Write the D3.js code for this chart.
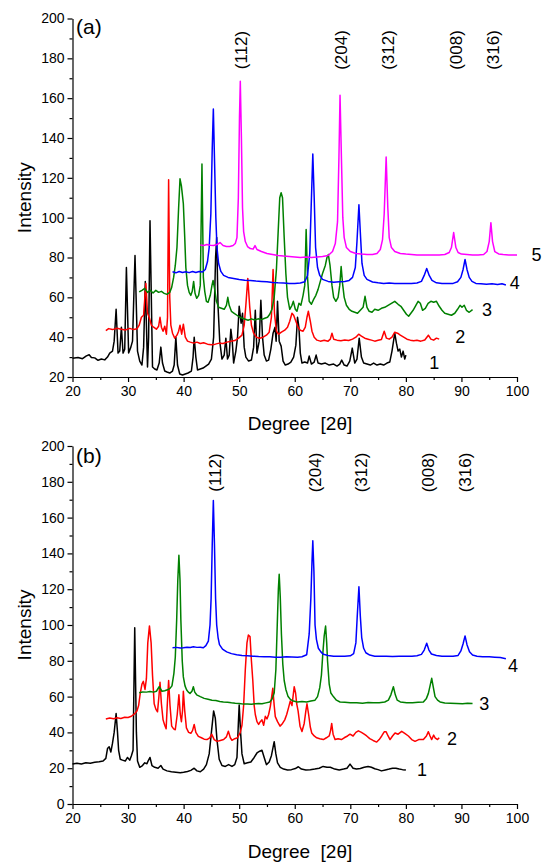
<!DOCTYPE html>
<html>
<head>
<meta charset="utf-8">
<script src="https://cdn.jsdelivr.net/npm/d3@7"></script>
<style>
  body { margin: 0; background: #fff; }
  text { font-family: Arial, "Liberation Sans", sans-serif; fill: #000; }
</style>
</head>
<body>
<div id="chart"></div>
<script>
/* DATA */
const xTicks = [20, 30, 40, 50, 60, 70, 80, 90, 100];
const xMinor = [25, 35, 45, 55, 65, 75, 85, 95];
const yTicksA = [20, 40, 60, 80, 100, 120, 140, 160, 180, 200];
const yMinorA = [30, 50, 70, 90, 110, 130, 150, 170, 190];
const yTicksB = [0, 20, 40, 60, 80, 100, 120, 140, 160, 180, 200];
const yMinorB = [10, 30, 50, 70, 90, 110, 130, 150, 170, 190];

const hklNames = ["(112)", "(204)", "(312)", "(008)", "(316)"];
const hklA = [50.45, 68.45, 76.85, 89.05, 95.75];
const hklB = [45.65, 63.65, 72.05, 84.05, 90.65];

// panel (a)
const a1 = [[20,29.4],[21,29.8],[21.8,29.2],[22.5,30.6],[23.0,31.2],[23.4,29.8],[24,29.6],[24.6,28.4],[25.2,29],[25.8,28.6],[26.3,30],[26.7,32],[27.2,33],[27.5,38],[27.85,54],[28.2,32],[28.5,33],[28.8,45],[29.1,32],[29.4,34],[29.7,75],[30.1,32],[30.5,35],[30.8,38],[31.25,81],[31.7,33],[32.1,28],[32.5,26],[32.8,35],[33.1,68],[33.5,25],[33.7,40],[33.95,98.5],[34.4,25],[34.8,24],[35.2,23.5],[35.6,27],[35.9,35],[36.2,27],[36.6,23],[37,22.5],[37.5,22],[38,23],[38.3,26],[38.6,40],[38.9,26],[39.3,21.5],[39.8,21],[40.3,21.5],[40.8,22],[41.4,23],[41.7,30],[41.9,40],[42.2,30],[42.5,23.5],[43,24],[43.5,24.5],[44,25.5],[44.5,26.5],[45.0,29],[45.4,40],[45.75,80],[45.95,90],[46.2,55],[46.5,38],[46.9,29],[47.3,31],[47.6,39.5],[47.9,29],[48.2,31],[48.5,44],[48.75,38],[49,27],[49.4,33],[49.7,40],[50.0,55.5],[50.35,47],[50.6,52],[50.9,35],[51.2,30],[51.7,28],[52.2,28.5],[52.6,35],[52.9,53.5],[53.2,32],[53.6,38],[53.9,58.5],[54.2,40],[54.5,31],[54.9,28],[55.3,28.5],[55.7,34],[56.1,42],[56.45,45],[56.65,38],[56.9,58],[57.2,38],[57.55,35.5],[57.9,28],[58.3,26],[58.8,26.5],[59.3,27.5],[59.8,30],[60.2,36],[60.5,50],[60.75,45],[61.0,32],[61.3,27],[61.8,27.5],[62.3,27],[62.6,30.5],[63.0,26.5],[63.5,27.5],[63.85,31],[64.2,27],[64.8,26.5],[65.5,27],[66.2,26],[67,26.5],[67.6,25.5],[68.1,26.5],[68.45,28.5],[68.9,26],[69.4,25.5],[69.9,28],[70.35,34.5],[70.8,27],[71.2,29],[71.6,39.5],[72.0,30],[72.4,27],[73,26.5],[73.6,26],[74.2,27],[74.8,26],[75.4,26.5],[76,26],[76.6,27],[77.1,27.5],[77.5,33],[78.0,42],[78.3,37],[78.6,33],[78.9,34],[79.2,30],[79.5,33],[79.8,29],[80,31]];
const a2 = [[26,43.3],[26.5,44.3],[27.2,43.8],[28,44.5],[28.8,44],[29.5,43.6],[30.3,44.4],[31,43.8],[31.6,44.2],[32.0,46],[32.4,50],[32.8,51],[33.2,67],[33.5,52],[33.8,50],[34.2,46],[34.6,45],[35.1,44],[35.5,45.5],[35.75,50],[36.0,45],[36.3,43],[36.6,45.5],[36.9,41.5],[37.1,50],[37.3,119],[37.5,60],[37.7,46],[38.0,42],[38.4,39.5],[38.8,41],[39.1,43],[39.35,46],[39.65,41.5],[39.95,46.5],[40.3,40],[40.7,38],[41.2,37.5],[41.8,37],[42.4,37.5],[43,36.8],[43.6,37.2],[44.3,36.5],[45,36.2],[45.7,36.5],[46.4,37],[47.1,36.8],[47.8,37.5],[48.5,38],[49.2,38.3],[49.9,39.5],[50.5,41],[50.9,46],[51.2,56],[51.55,69.5],[51.9,55],[52.2,46],[52.6,42],[53.1,40],[53.7,39.5],[54.3,40],[54.9,41],[55.4,42.5],[55.8,50],[56.1,74],[56.35,52],[56.7,43],[57.1,41.5],[57.6,42.5],[58.2,43.5],[58.7,45],[59.1,48],[59.5,52],[59.8,51],[60.2,48],[60.6,45],[61.0,43.5],[61.5,43],[61.9,45],[62.2,50],[62.45,53],[62.8,48],[63.1,43],[63.5,40],[64,38.5],[64.6,38],[65.3,38.5],[66,38],[66.4,39],[66.7,42],[67,39],[67.6,38.5],[68.3,38.2],[69,38.6],[69.7,38.3],[70.4,39],[71,40],[71.5,41.5],[72,40.5],[72.6,39.5],[73.2,39],[73.8,38.5],[74.4,38],[75,38.4],[75.6,38.8],[76.1,43],[76.5,39.5],[77,39],[77.5,40],[78.0,42.5],[78.5,42],[79,41],[79.6,40],[80.2,39],[80.8,38.5],[81.4,38.2],[82,38.5],[82.7,38],[83.4,38.6],[84.05,41],[84.5,39],[85,38.5],[85.5,39.5],[86,39]];
const a3 = [[32,62.7],[32.5,63.5],[33,64.5],[33.5,62.5],[34,63.5],[34.5,62.2],[35,63.5],[35.5,62.5],[36,63],[36.5,62],[37,61.5],[37.5,62.5],[37.85,65],[38.2,70],[38.5,76],[38.8,85],[39.1,105],[39.35,119.5],[39.6,116],[39.95,107],[40.2,90],[40.4,75],[40.7,66],[41.0,62.5],[41.3,61],[41.55,63],[41.8,68],[42.05,62],[42.35,59.5],[42.7,61],[43.0,66],[43.3,127],[43.55,70],[43.8,63],[44.1,58],[44.4,57.5],[44.8,61],[45.1,66],[45.3,68.5],[45.6,64],[45.9,58],[46.3,55],[46.8,54.5],[47.3,54],[47.7,56],[47.95,60],[48.2,56],[48.6,53],[49.1,52],[49.6,51],[50.1,50],[50.6,49.5],[51.1,49],[51.6,48.5],[52.2,49.2],[52.8,48.6],[53.4,49.2],[54,48.8],[54.6,49.5],[55.1,50],[55.5,51.5],[55.9,54],[56.3,60],[56.7,74],[57.0,92],[57.3,110],[57.55,112.5],[57.8,110],[58.1,90],[58.4,72],[58.7,60],[59.1,54],[59.5,56],[59.75,58],[60.1,54],[60.4,53],[60.75,57],[61.1,56],[61.5,61],[61.8,66],[62.05,94],[62.3,70],[62.6,58],[63.0,56.5],[63.4,59],[63.8,61],[64.2,64],[64.6,68],[65.0,72],[65.5,76],[65.8,80],[66.05,81.5],[66.35,76],[66.7,66],[67,60],[67.4,58],[67.8,60],[68.1,66],[68.35,75.5],[68.6,67],[68.9,60],[69.3,56],[69.8,54],[70.3,53],[70.8,52.5],[71.3,52],[71.8,53.5],[72.3,55],[72.65,60.5],[73,55],[73.4,53],[73.9,52.5],[74.4,54],[75,53.5],[75.6,54.5],[76.2,55],[76.8,56],[77.4,57],[78.0,58],[78.6,56.5],[79.1,55.5],[79.6,53.5],[80.1,51.5],[80.5,50.5],[80.9,52],[81.3,53.5],[81.8,56],[82.2,58],[82.6,57],[83.0,53.5],[83.5,54.5],[84.0,57],[84.5,58],[85.0,57.5],[85.5,58],[86.0,55.5],[86.5,53.5],[87.0,52],[87.6,51.5],[88.2,51],[88.8,52],[89.3,54],[89.75,56],[90.1,55],[90.5,56],[90.9,53.5],[91.4,52.5],[92,53.8]];
const a4 = [[38,72.8],[38.6,72.3],[39.2,73],[39.8,72.5],[40.4,72.8],[41,72.4],[41.6,73],[42.2,72.5],[42.8,73],[43.4,72.7],[43.9,74],[44.3,78],[44.6,85],[44.9,102],[45.15,135],[45.35,154.5],[45.55,130],[45.8,100],[46.0,85],[46.3,77],[46.7,73],[47.2,71],[48,70],[49,69.5],[50,69],[51,68.6],[52,68.5],[53,68.2],[54,68],[55,67.8],[56,67.5],[57,67.3],[58,67.2],[59,67],[60,67],[61,67.2],[61.8,67.8],[62.3,71],[62.7,82],[62.95,105],[63.25,132],[63.5,110],[63.75,85],[64.1,75],[64.5,71],[65,69],[66,68],[67,67.6],[68,67.8],[69,68],[69.8,68.5],[70.4,70],[70.9,75],[71.2,88],[71.55,106.5],[71.85,90],[72.1,77],[72.5,71],[73,69],[74,67.7],[75,67.3],[76,67],[77,67.2],[78,67],[79,67],[80,67],[81,66.9],[82,67.2],[82.8,68],[83.3,71],[83.75,74.5],[84.2,71],[84.7,68.5],[85.5,67.3],[86.5,67],[87.5,67],[88.5,67],[89.3,67.8],[89.9,70],[90.3,74],[90.65,79],[91.0,74],[91.4,70],[91.9,68],[92.6,67],[93.5,66.8],[94.5,66.6],[95.5,66.8],[96.5,66.5],[97.3,66.8],[98,66.2]];
const a5 = [[43,86.3],[43.6,86],[44.2,86.5],[44.8,86.2],[45.4,86],[46,86.5],[46.55,87.5],[47.1,86],[47.7,85.5],[48.3,85.5],[48.9,86],[49.3,87],[49.6,90],[49.85,110],[50.05,150],[50.2,168.5],[50.4,140],[50.6,105],[50.8,93],[51.1,88],[51.5,85.5],[52,84.5],[52.5,84.2],[52.85,86],[53.2,84],[54,83],[55,82],[56,81.5],[57,81],[58,80.7],[59,80.5],[60,80.3],[61,80],[62,80.2],[63,80],[64,80.2],[65,80.5],[66,81],[66.8,83],[67.3,87],[67.7,98],[67.95,130],[68.15,161.5],[68.4,130],[68.65,100],[68.9,90],[69.3,85],[70,83],[71,82],[72,81.7],[73,81.5],[74,81.5],[74.8,82],[75.4,84],[75.8,89],[76.1,102],[76.45,130.5],[76.75,105],[77.0,90],[77.4,85],[78,83],[79,82],[80,81.7],[81,81.5],[82,81.3],[83,81.3],[84,81.2],[85,81.2],[86,81.3],[87,81.5],[87.8,82.5],[88.2,85],[88.6,92.5],[89.0,85],[89.4,82.5],[90,81.7],[91,81.5],[92,81.3],[93,81.3],[94,81.5],[94.6,83],[95.0,88],[95.3,97.5],[95.6,88],[96,83],[96.7,81.8],[97.5,81.5],[98.5,81.3],[99.3,81.2],[100,81.2]];

// panel (b)
const b1 = [[20,22.3],[20.8,22.8],[21.6,22.4],[22.4,23],[23.2,22.8],[24,23.3],[24.8,23.6],[25.5,24],[26,25.5],[26.3,31],[26.6,32],[26.9,29],[27.2,34],[27.5,40],[27.85,50.5],[28.1,40],[28.3,30],[28.6,25],[29,24.5],[29.5,24],[29.9,26],[30.3,24.5],[30.6,27],[30.9,30],[31.2,98.5],[31.5,40],[31.7,24],[32.1,20.5],[32.6,21.5],[33.0,23],[33.4,22.5],[33.6,24],[33.95,26],[34.3,21.5],[34.8,20.5],[35.4,20],[35.9,21.5],[36.3,19.5],[37,18.5],[37.8,18],[38.6,17.8],[39.4,17.5],[40,17.8],[40.7,18.2],[41.3,18.8],[41.9,20],[42.4,18.5],[43,18],[43.6,19.5],[44.1,22],[44.6,28],[45.0,40],[45.4,52],[45.7,48],[46.0,36],[46.4,25],[46.9,21.5],[47.5,21],[48.1,22],[48.7,21],[49.2,22],[49.6,26],[49.85,45],[50.0,55.3],[50.25,40],[50.5,28],[50.9,22.5],[51.5,23],[52.1,23.5],[52.7,26],[53.2,28.5],[53.7,29.5],[54.1,30],[54.5,26],[54.9,22],[55.4,23.5],[55.8,27],[56.3,34.8],[56.6,28],[56.9,23],[57.4,20.5],[58,19.5],[58.7,19],[59.4,19.2],[60.1,19.8],[60.65,20.8],[61.2,19.5],[62,19],[62.8,19.2],[63.6,19.5],[64.4,20],[65.1,21],[65.8,20.5],[66.4,20.5],[67.2,19.5],[68,19],[68.8,19.5],[69.4,20],[69.95,22.3],[70.5,20],[71.1,19.5],[71.8,19.8],[72.5,20.5],[73.2,21],[73.8,20.5],[74.4,19.7],[75,19.2],[75.6,18.5],[76.3,19],[77,19.5],[77.6,20],[78.2,20],[78.8,19.5],[79.4,19.2],[80,19]];
const b2 = [[26,47.5],[26.7,48],[27.4,47.6],[28,48.2],[28.7,47.8],[29.4,48.5],[30,48.3],[30.6,49],[31.2,50.5],[31.6,52],[31.9,55],[32.2,62],[32.5,67],[32.75,68.5],[33.05,64],[33.3,70],[33.55,90],[33.85,99.5],[34.15,90],[34.4,72],[34.7,56],[35.0,53],[35.3,51.5],[35.55,60],[35.75,68],[36.0,56],[36.3,47],[36.6,44],[36.85,42],[37.05,55],[37.3,69],[37.55,55],[37.85,43.5],[38.2,42],[38.5,41.5],[38.85,50],[39.15,61],[39.4,50],[39.6,46],[39.8,52],[39.95,63],[40.2,52],[40.5,42.5],[40.9,40],[41.3,39.5],[41.6,41],[41.9,44.4],[42.2,40],[42.65,37.8],[43.2,37],[43.7,36.2],[44.2,36],[44.7,37],[45.05,39],[45.5,36],[46,35],[46.6,35.5],[47.2,36],[47.7,37.5],[48.05,40.7],[48.4,37],[48.7,35.6],[49.2,36.5],[49.7,37],[50.2,40],[50.5,44],[50.8,55],[51.1,75],[51.4,90],[51.65,94.4],[51.95,93.5],[52.2,80],[52.45,69],[52.7,55],[52.9,50],[53.2,46],[53.5,44.5],[53.8,46],[54.1,47],[54.4,44],[54.7,49],[55.0,47.5],[55.3,50],[55.6,54.4],[55.85,60],[56.05,64.6],[56.3,55],[56.5,48.8],[56.9,46],[57.35,43.5],[57.8,45],[58.2,47],[58.55,50],[58.9,54],[59.2,57.6],[59.5,55],[59.9,65.5],[60.15,62],[60.35,56],[60.6,52],[60.95,43.5],[61.3,40.5],[61.7,45],[62.0,52],[62.2,56],[62.5,50],[62.8,43],[63.05,39.7],[63.5,38],[63.95,37],[64.5,36.5],[65.15,36],[65.7,37],[66.2,38],[66.45,41],[66.65,45],[66.9,39],[67.25,36],[67.8,36.5],[68.4,36],[68.9,37],[69.5,38],[69.95,39],[70.5,38],[71,40],[71.45,40.9],[72,40],[72.5,39],[72.95,38],[73.5,36.5],[74.1,35.5],[74.75,34.6],[75.2,36],[75.65,38],[76.1,40.3],[76.45,40.3],[76.8,38],[77.15,36],[77.6,38],[78.05,39.7],[78.6,39],[79.25,40.6],[79.8,39.5],[80.45,38],[81.05,36],[81.65,35],[82.3,36],[83.15,36],[83.7,38],[84.05,40.4],[84.35,38],[84.65,36],[85.0,38.5],[85.25,37],[85.7,36],[86,37]];
const b3 = [[32,62.2],[32.6,62.6],[33.3,62.5],[33.95,62.8],[34.6,62.5],[35.1,63],[35.6,65.5],[36.1,63],[36.6,63.3],[37.1,63.8],[37.55,64.6],[37.9,66],[38.25,73],[38.5,82],[38.75,103],[38.95,125],[39.15,139],[39.35,125],[39.5,103],[39.75,80],[39.95,71],[40.25,66],[40.55,63.7],[40.85,62.5],[41.15,61.8],[41.5,63],[41.75,65.5],[42.0,62.5],[42.35,61],[43,60],[43.7,59],[44.4,58.5],[45.1,58],[45.8,57.8],[46.5,57.3],[47.15,57],[47.9,56.8],[48.6,56.5],[49.3,56.3],[50,56.2],[50.8,55.8],[51.5,55.9],[52.2,55.7],[52.9,56],[53.5,56.2],[54.1,56],[54.8,56.5],[55.5,57],[55.9,58.5],[56.3,62],[56.6,75],[56.85,100],[57.05,120],[57.2,128.3],[57.4,115],[57.6,95],[57.85,78],[58.1,69],[58.4,64],[58.8,60],[59.2,58.5],[59.75,57.5],[60.5,57],[61.3,57.2],[62.15,57],[62.9,57.5],[63.65,58],[64.1,60],[64.5,65],[64.8,72],[65.05,84],[65.3,94],[65.55,99.4],[65.75,90],[65.9,80],[66.2,67],[66.5,62],[66.95,60],[67.5,58],[68.15,57],[69,56.8],[70,56.5],[71.15,56.6],[72.2,56.3],[73.2,56.7],[74.15,56.6],[75.2,56.5],[76.2,57],[76.85,58],[77.3,61],[77.75,65.5],[78.1,61],[78.45,58],[79,57],[80.15,56.6],[81.2,56.5],[82.2,56.8],[83.15,57],[83.7,59],[84.05,61.8],[84.35,66],[84.65,70.2],[84.95,65],[85.25,60],[85.7,58],[86.15,57],[87,56.4],[88,56.3],[89.15,56.2],[90.2,56],[91.1,56.3],[92,56.2]];
const b4 = [[38,87.3],[38.7,87.5],[39.4,87.2],[39.95,87.3],[40.6,87.6],[41.2,87.4],[41.75,87.8],[42.4,87.5],[43,87.6],[43.55,87.3],[44.0,88.5],[44.45,91],[44.75,100],[44.95,115],[45.15,145],[45.35,169.5],[45.55,145],[45.75,115],[45.95,100],[46.2,93],[46.45,89],[47,86.5],[47.75,85],[48.6,84],[49.55,83.4],[50.5,83],[51.5,82.8],[52.5,82.6],[53.5,82.4],[54.5,82.3],[55.5,82.2],[56.5,82],[57.5,82],[58.5,82.2],[59.5,82.1],[60.5,82],[61.3,82.3],[62.15,83.4],[62.6,95],[62.9,115],[63.1,135],[63.25,147],[63.45,130],[63.65,100],[63.9,92],[64.25,87],[64.7,85],[65.15,83.6],[66,83],[67,82.6],[68,82.5],[69,82.6],[70,82.8],[70.6,84],[71.0,90],[71.25,105],[71.55,121.4],[71.8,105],[72.05,93],[72.4,87],[72.8,84.5],[73.5,83.2],[74.4,82.6],[75.35,82.5],[76.5,82.5],[77.6,82.4],[78.8,82.5],[80,82.5],[81.1,82.6],[82,82.8],[82.8,83.6],[83.3,86],[83.75,89.8],[84.15,86],[84.6,83.8],[85.5,83],[86.5,82.6],[87.5,82.5],[88.5,82.5],[89.4,83],[89.9,85.5],[90.3,89.5],[90.65,93.9],[91.0,89],[91.45,85],[92,83.2],[92.8,82.6],[93.8,82.3],[95,82.2],[96,82],[97,81.8],[98,81.2]];

// curve number labels: [text, x, y] in data units
const numLabelsA = [["1", 85.1, 27.2], ["2", 89.8, 40.0], ["3", 94.6, 53.7], ["4", 99.6, 67.2], ["5", 103.5, 81.3]];
const numLabelsB = [["1", 82.9, 19], ["2", 88.3, 36.3], ["3", 94.1, 55.7], ["4", 99.3, 77]];

const colors = ["#000000", "#ff0000", "#008000", "#0000ff", "#ff00ff"];

/* SVG */
const W = 544, H = 866;
const svg = d3.select("#chart").append("svg")
  .attr("width", W)
  .attr("height", H);

function drawPanel(p) {
  const x = d3.scaleLinear().domain([20, 100]).range([72.5, 517]);
  const y = d3.scaleLinear().domain(p.yDomain).range(p.yRange);
  const g = svg.append("g");

  // axes: major + minor ticks
  g.append("g").attr("transform", `translate(0,${p.yRange[0]})`)
    .call(d3.axisBottom(x).tickValues(xTicks).tickSize(5).tickSizeOuter(0).tickPadding(4));
  g.append("g").attr("transform", `translate(0,${p.yRange[0]})`)
    .call(d3.axisBottom(x).tickValues(xMinor).tickSize(3).tickFormat(""))
    .select(".domain").remove();
  g.append("g").attr("transform", `translate(${x.range()[0]},0)`)
    .call(d3.axisLeft(y).tickValues(p.yTicks).tickSize(5).tickSizeOuter(0).tickPadding(3));
  g.append("g").attr("transform", `translate(${x.range()[0]},0)`)
    .call(d3.axisLeft(y).tickValues(p.yMinor).tickSize(3).tickFormat(""))
    .select(".domain").remove();
  g.selectAll(".tick text").style("font-size", "14px").style("font-family", "Arial, 'Liberation Sans', sans-serif");
  g.selectAll(".domain, .tick line").attr("stroke", "#000").attr("stroke-width", 1.2);

  // curves
  const line = d3.line().x(d => x(d[0])).y(d => y(d[1]));
  g.selectAll("path.curve")
    .data(p.series)
    .join("path")
    .attr("class", "curve")
    .attr("d", line)
    .attr("fill", "none")
    .attr("stroke", (d, i) => colors[i])
    .attr("stroke-width", 1.5)
    .attr("stroke-linejoin", "round");

  // curve numbers
  g.selectAll("text.num")
    .data(p.nums)
    .join("text")
    .attr("class", "num")
    .attr("x", d => x(d[1]))
    .attr("y", d => y(d[2]))
    .attr("text-anchor", "middle")
    .attr("dominant-baseline", "central")
    .style("font-size", "18px")
    .text(d => d[0]);

  // hkl labels
  g.selectAll("text.hkl")
    .data(p.hkl)
    .join("text")
    .attr("class", "hkl")
    .attr("transform", d => `translate(${x(d)},${p.hklY}) rotate(-90)`)
    .attr("text-anchor", "middle")
    .attr("dominant-baseline", "central")
    .style("font-size", "17px")
    .text((d, i) => hklNames[i]);

  // panel letter
  g.append("text")
    .attr("x", 76)
    .attr("y", p.letterY)
    .style("font-size", "21px")
    .text(p.letter);

  // axis titles
  g.append("text")
    .attr("transform", `translate(24,${(p.yRange[0] + p.yRange[1]) / 2}) rotate(-90)`)
    .attr("text-anchor", "middle")
    .attr("dominant-baseline", "central")
    .style("font-size", "19px")
    .text("Intensity");

  g.append("text")
    .attr("x", 300)
    .attr("y", p.titleY)
    .attr("text-anchor", "middle")
    .style("font-size", "19px")
    .style("white-space", "pre")
    .text("Degree  [2\u03b8]");
}

drawPanel({
  yDomain: [20, 200], yRange: [377, 18.5],
  yTicks: yTicksA, yMinor: yMinorA,
  series: [a1, a2, a3, a4, a5],
  nums: numLabelsA, hkl: hklA, hklY: 50,
  letter: "(a)", letterY: 34, titleY: 430
});

drawPanel({
  yDomain: [0, 200], yRange: [804, 446],
  yTicks: yTicksB, yMinor: yMinorB,
  series: [b1, b2, b3, b4],
  nums: numLabelsB, hkl: hklB, hklY: 472.5,
  letter: "(b)", letterY: 463, titleY: 858
});
</script>
</body>
</html>
